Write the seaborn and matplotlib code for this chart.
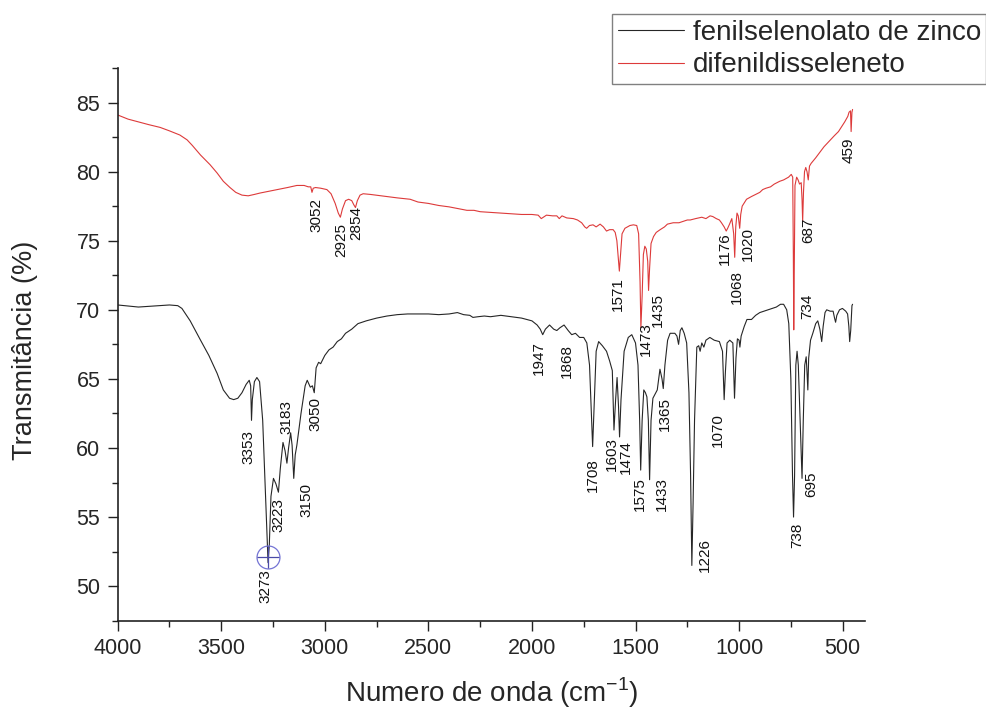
import numpy as np
import pandas as pd
import matplotlib
matplotlib.use("Agg")
import matplotlib.pyplot as plt
import seaborn as sns
from matplotlib.ticker import MultipleLocator

# ---------------- data ----------------
zinc_wn = [4000, 3900, 3850, 3800, 3750, 3710, 3690, 3650, 3600, 3560, 3520, 3490, 3460, 3440,
           3420, 3400, 3380, 3365, 3358, 3354, 3350, 3340, 3328, 3315, 3300, 3290, 3280, 3274,
           3268, 3260, 3248, 3236, 3224, 3215, 3202, 3192, 3183, 3175, 3165, 3158, 3150, 3143,
           3135, 3115, 3095, 3085, 3070, 3060, 3051, 3042, 3030, 3020, 3000, 2980, 2960, 2940,
           2920, 2900, 2870, 2840, 2800, 2750, 2700, 2650, 2600, 2500, 2450, 2400, 2360, 2330,
           2300, 2285, 2260, 2230, 2200, 2150, 2100, 2050, 2000, 1975, 1960, 1948, 1935, 1915,
           1895, 1880, 1865, 1845, 1825, 1808, 1790, 1770, 1750, 1735, 1722, 1712, 1707, 1700,
           1690, 1678, 1660, 1640, 1625, 1612, 1604, 1596, 1589, 1582, 1577, 1570, 1555, 1535,
           1518, 1500, 1488, 1480, 1475, 1468, 1460, 1452, 1445, 1438, 1432, 1425, 1416, 1395,
           1382, 1372, 1366, 1358, 1345, 1333, 1310, 1300, 1292, 1284, 1276, 1265, 1253, 1242,
           1234, 1228, 1222, 1215, 1204, 1195, 1188, 1180, 1170, 1160, 1141, 1120, 1095, 1080,
           1072, 1066, 1058, 1045, 1030, 1022, 1015, 1008, 1000, 996, 990, 975, 962, 940, 920,
           900, 880, 861, 840, 820, 800, 785, 770, 760, 750, 742, 737, 732, 726, 720, 714, 705,
           696, 690, 683, 676, 672, 668, 664, 655, 644, 630, 620, 610, 601, 594, 585, 577, 560,
           546, 539, 534, 528, 515, 501, 485, 476, 470, 466, 461, 455, 452]
zinc_t = [70.35, 70.2, 70.25, 70.3, 70.35, 70.3, 70.1, 69.2, 67.8, 66.7, 65.4, 64.2, 63.6, 63.5,
          63.6, 64.0, 64.6, 64.9, 64.5, 62.0, 63.5, 64.8, 65.1, 64.8, 62.0, 58.0, 54.0, 51.7,
          53.0, 56.5, 57.8, 57.4, 56.8, 58.5, 60.4, 59.8, 58.9, 60.0, 61.1, 60.2, 57.8, 59.5,
          60.2, 62.5, 64.5, 64.9, 64.4, 64.5, 64.0, 65.8, 66.2, 66.1, 66.7, 67.1, 67.3, 67.7,
          67.9, 68.3, 68.6, 69.0, 69.2, 69.4, 69.55, 69.65, 69.7, 69.7, 69.65, 69.7, 69.8, 69.65,
          69.6, 69.45, 69.5, 69.55, 69.5, 69.6, 69.5, 69.4, 69.2, 68.9, 68.6, 68.2, 68.6, 68.9,
          68.6, 68.5, 68.7, 68.9, 68.5, 68.2, 68.3, 68.0, 68.0, 67.6, 66.0, 62.0, 60.1, 63.0,
          67.0, 67.7, 67.4, 67.0, 66.3, 65.6, 61.3, 63.5, 65.1, 63.0, 60.8, 63.5, 67.0, 68.0,
          68.2, 67.6, 66.0, 62.0, 58.4, 62.0, 64.2, 64.0, 63.7, 62.0, 57.7, 62.0, 63.6, 64.2,
          65.7, 65.0, 64.3, 66.0, 67.8, 68.3, 68.3, 68.1, 67.5, 68.5, 68.7, 68.3, 67.6, 64.0,
          58.0, 51.5, 56.0, 62.0, 67.3, 67.4, 67.0, 67.6, 67.3, 67.8, 68.0, 67.8, 67.7, 67.0,
          63.5, 65.5, 67.6, 67.8, 67.6, 63.6, 66.5, 67.9, 67.8, 67.3, 68.1, 68.8, 69.3, 69.3, 69.6,
          69.8, 69.9, 70.0, 70.1, 70.2, 70.4, 70.4, 70.0, 69.0, 65.0, 58.0, 55.0, 58.0, 66.0, 67.0, 66.0, 62.0,
          57.8, 62.0, 66.0, 66.6, 65.5, 64.2, 66.5, 67.8, 68.3, 69.0, 69.2, 68.6, 67.7, 68.8, 69.8, 70.0, 69.9,
          69.9, 69.4, 69.1, 69.6, 70.0, 70.1, 69.9, 69.7, 68.8, 67.7, 68.5, 70.3, 70.4]

diph_wn = [4000, 3950, 3900, 3850, 3795, 3750, 3700, 3665, 3640, 3600, 3554, 3520, 3490, 3458,
           3430, 3400, 3370, 3340, 3313, 3280, 3233, 3180, 3135, 3100, 3080, 3068, 3062, 3056,
           3045, 3020, 2990, 2970, 2950, 2935, 2925, 2915, 2900, 2885, 2870, 2860, 2852, 2843,
           2830, 2815, 2780, 2700, 2650, 2588, 2550, 2500, 2450, 2400, 2350, 2314, 2280, 2250,
           2200, 2150, 2100, 2050, 2000, 1970, 1955, 1945, 1930, 1900, 1880, 1868, 1855, 1832,
           1800, 1780, 1760, 1745, 1736, 1722, 1705, 1690, 1671, 1655, 1640, 1625, 1608, 1598,
           1590, 1582, 1578, 1572, 1565, 1551, 1527, 1510, 1494, 1485, 1478, 1474, 1468, 1462,
           1455, 1448, 1441, 1437, 1432, 1425, 1413, 1400, 1381, 1360, 1346, 1318, 1290, 1270,
           1250, 1236, 1210, 1180, 1160, 1140, 1127, 1110, 1095, 1085, 1072, 1062, 1055, 1046,
           1035, 1026, 1021, 1016, 1010, 1004, 997, 992, 985, 964, 940, 920, 900, 886, 870, 848,
           830, 804, 785, 761, 748, 741, 738, 736, 733, 730, 722, 715, 708, 700, 696, 693, 689,
           684, 678, 672, 666, 660, 652, 630, 610, 590, 565, 540, 520, 507, 490, 475, 469, 462,
           459, 455, 452]
diph_t = [84.1, 83.8, 83.6, 83.4, 83.2, 82.95, 82.65, 82.3, 81.9, 81.2, 80.5, 79.9, 79.3, 78.85,
          78.5, 78.3, 78.25, 78.35, 78.45, 78.55, 78.7, 78.85, 79.0, 79.0, 78.9, 78.9, 78.5, 78.8,
          78.85, 78.8, 78.7, 78.4, 77.7, 77.0, 76.7, 77.3, 77.9, 78.0, 77.9, 77.6, 77.4, 77.9,
          78.3, 78.4, 78.35, 78.2, 78.1, 78.0, 77.8, 77.7, 77.55, 77.45, 77.3, 77.2, 77.2, 77.1,
          77.05, 77.0, 76.95, 76.9, 76.9, 76.85, 76.6, 76.7, 76.85, 76.8, 76.8, 76.6, 76.8, 76.65,
          76.6, 76.5, 76.3, 76.0, 75.9, 76.1, 76.15, 76.0, 76.2, 76.0, 75.7, 75.8, 75.8, 75.6,
          75.0, 73.5, 72.8, 74.0, 75.5, 75.9, 76.1, 76.15, 76.1, 75.5, 72.0, 68.7, 71.0, 74.0,
          74.6, 74.4, 73.5, 71.4, 73.0, 74.8, 75.3, 75.6, 75.8, 76.0, 76.2, 76.3, 76.3, 76.4,
          76.5, 76.5, 76.6, 76.7, 76.6, 76.8, 76.75, 76.6, 76.5, 76.3, 76.0, 75.7, 75.9, 76.2,
          76.6, 75.5, 73.8, 76.0, 77.0, 76.8, 75.9, 76.9, 77.5, 78.0, 78.2, 78.35, 78.5, 78.7, 78.8, 78.9,
          79.1, 79.3, 79.4, 79.6, 79.8, 79.6, 74.0, 68.55, 74.0, 79.0, 79.6, 79.4, 79.1, 79.2, 78.0, 76.4, 78.5,
          80.0, 80.3, 80.0, 79.4, 80.4, 80.6, 81.0, 81.4, 81.8, 82.2, 82.6, 82.9, 83.2, 83.6, 84.0, 84.3, 84.4,
          82.9, 84.3, 84.5]

series_names = ["fenilselenolato de zinco", "difenildisseleneto"]

zinc_peaks = [3353, 3273, 3223, 3183, 3150, 3050, 1947, 1868, 1708, 1603, 1474, 1575,
              1433, 1365, 1226, 1070, 738, 695]
diph_peaks = [3052, 2925, 2854, 1571, 1473, 1435, 1176, 1068, 1020, 734, 687, 459]

x_ticks = [4000, 3500, 3000, 2500, 2000, 1500, 1000, 500]
y_ticks = [50, 55, 60, 65, 70, 75, 80, 85]

# ---------------- layout (label anchor: wavenumber of text centre, top of text) ----------------
zinc_label_pos = [(3370, 61.3), (3289, 51.2), (3225, 56.4), (3183, 63.5), (3088, 57.5),
                  (3047, 63.7), (1966, 67.7), (1832, 67.5), (1704, 59.3), (1614, 60.8),
                  (1545, 60.6), (1478, 57.9), (1373, 57.9), (1360, 63.7), (1165, 53.5),
                  (1102, 62.5), (720, 54.6), (650, 58.3)]
diph_label_pos = [(3042, 78.1), (2919, 76.3), (2849, 77.5), (1585, 72.4), (1450, 69.1),
                  (1392, 71.2), (1069, 75.6), (1013, 72.9), (959, 76.0), (671, 71.2),
                  (667, 76.7), (473, 82.5)]

BLACK = "#262626"
RED = "#dd3a3a"

sns.set_style("ticks")
plt.rcParams["font.family"] = ["Liberation Sans", "DejaVu Sans"]

df = pd.concat([
    pd.DataFrame({"wn": zinc_wn, "T": zinc_t, "amostra": series_names[0]}),
    pd.DataFrame({"wn": diph_wn, "T": diph_t, "amostra": series_names[1]}),
], ignore_index=True)

fig = plt.figure(figsize=(9.86, 7.11), dpi=100)
ax = fig.add_axes([117.7 / 986, 1 - 620.7 / 711, (865 - 117.7) / 986, (620.7 - 68) / 711])

sns.lineplot(data=df, x="wn", y="T", hue="amostra", hue_order=series_names,
             palette=[BLACK, RED], sort=False, estimator=None, linewidth=0.8,
             legend=False, ax=ax)

ax.set_xlim(4000, 392)
ax.set_ylim(47.5, 87.5)
ax.set_xticks(x_ticks)
ax.set_yticks(y_ticks)
ax.xaxis.set_minor_locator(MultipleLocator(250))
ax.yaxis.set_minor_locator(MultipleLocator(2.5))
ax.tick_params(which="major", direction="out", length=7.5, width=1.0, labelsize=15.5,
               pad=5, color="#222222")
ax.tick_params(which="minor", direction="out", length=4.5, width=1.0, color="#222222")
sns.despine(ax=ax)
for s in ("left", "bottom"):
    ax.spines[s].set_linewidth(1.2)
    ax.spines[s].set_color("#222222")

ax.set_xlabel(r"Numero de onda (cm$^{\mathregular{-1}}$)", fontsize=20, labelpad=12)
ax.set_ylabel("Transmitância (%)", fontsize=19.5)
ax.yaxis.set_label_coords(-0.107, 0.49)

for txt, (xp, yp) in zip(zinc_peaks, zinc_label_pos):
    ax.text(xp, yp, str(txt), rotation=90, ha="center", va="top", fontsize=11, color="#111111")
for txt, (xp, yp) in zip(diph_peaks, diph_label_pos):
    ax.text(xp, yp, str(txt), rotation=90, ha="center", va="top", fontsize=11, color="#111111")

# data-reader cursor drawn on the main band
ax.plot([3273], [52.1], marker="o", mfc="none", mec="#7474d4", ms=16.5, mew=0.9)
ax.plot([3273], [52.1], marker="+", color="#4a4aa8", ms=16.5, mew=0.9)

handles = ax.lines[:2]
leg = fig.legend(handles, series_names, loc="upper left",
                 bbox_to_anchor=(612 / 986, 1 - 14 / 711), bbox_transform=fig.transFigure,
                 fontsize=20, frameon=True, fancybox=False, framealpha=1,
                 edgecolor="#808080", borderaxespad=0, borderpad=0.2, labelspacing=0.25,
                 handlelength=2.4, handletextpad=0.3)
leg.get_frame().set_linewidth(1.0)

fig.savefig("out.png", dpi=100)
